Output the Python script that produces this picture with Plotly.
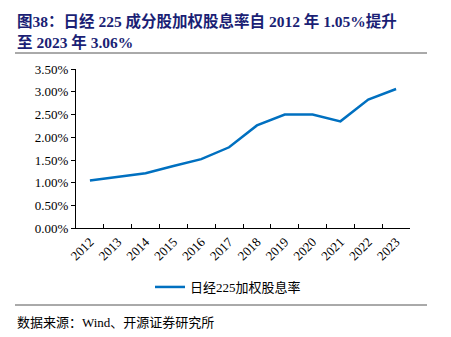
import plotly.graph_objects as go

years = ["2012", "2013", "2014", "2015", "2016", "2017", "2018", "2019", "2020", "2021", "2022", "2023"]
yield_pct = [1.05, 1.13, 1.21, 1.37, 1.52, 1.78, 2.26, 2.50, 2.50, 2.35, 2.83, 3.06]
y_ticks = [0, 0.5, 1.0, 1.5, 2.0, 2.5, 3.0, 3.5]
y_tick_labels = ["0.00%", "0.50%", "1.00%", "1.50%", "2.00%", "2.50%", "3.00%", "3.50%"]

W, H = 451, 337
serif = "Liberation Serif, Times New Roman, Noto Sans CJK SC, serif"
navy = "#1b1f75"

fig = go.Figure()
fig.add_trace(go.Scatter(
    x=years, y=yield_pct, mode="lines", name="日经225加权股息率",
    line=dict(color="#0070C0", width=2.5),
))

def px(x):
    return x / W

def py(y):
    return (H - y) / H

fig.update_layout(
    width=W, height=H,
    margin=dict(l=0, r=0, t=0, b=0),
    paper_bgcolor="white", plot_bgcolor="white",
    font=dict(family=serif, color="black", size=12),
    showlegend=True,
    legend=dict(orientation="h", x=px(150), y=py(287), xanchor="left", yanchor="middle",
                font=dict(family=serif, size=13, color="black"), bgcolor="rgba(0,0,0,0)"),
    xaxis=dict(domain=[px(76), px(410)], type="category", tickangle=-45,
               range=[-0.5, len(years) - 0.5], automargin=False,
               showline=True, linecolor="black", linewidth=1,
               ticks="inside", ticklen=4, tickcolor="black", tickson="boundaries",
               showgrid=False, tickfont=dict(family=serif, size=13, color="black")),
    yaxis=dict(domain=[py(228.3), py(69)], range=[0, 3.5], automargin=False,
               tickvals=y_ticks, ticktext=y_tick_labels,
               showline=True, linecolor="black", linewidth=1,
               ticks="outside", ticklen=4, tickcolor="black",
               showgrid=False, zeroline=False,
               tickfont=dict(family=serif, size=13, color="black")),
    annotations=[
        dict(xref="paper", yref="paper", x=px(15), y=py(21), xanchor="left", yanchor="middle",
             text="<b>图38：日经 225 成分股加权股息率自 2012 年 1.05%提升</b>", showarrow=False,
             font=dict(family=serif, size=15.5, color=navy)),
        dict(xref="paper", yref="paper", x=px(15), y=py(42), xanchor="left", yanchor="middle",
             text="<b>至 2023 年 3.06%</b>", showarrow=False,
             font=dict(family=serif, size=15.5, color=navy)),
        dict(xref="paper", yref="paper", x=px(15), y=py(322), xanchor="left", yanchor="middle",
             text="数据来源：Wind、开源证券研究所", showarrow=False,
             font=dict(family=serif, size=13, color="black")),
    ],
    shapes=[
        dict(type="line", xref="paper", yref="paper", x0=px(15), x1=px(427), y0=py(53), y1=py(53),
             line=dict(color="#555555", width=1)),
        dict(type="line", xref="paper", yref="paper", x0=px(15), x1=px(427), y0=py(305), y1=py(305),
             line=dict(color="#555555", width=1)),
    ],
)

fig.write_html("out.html")
